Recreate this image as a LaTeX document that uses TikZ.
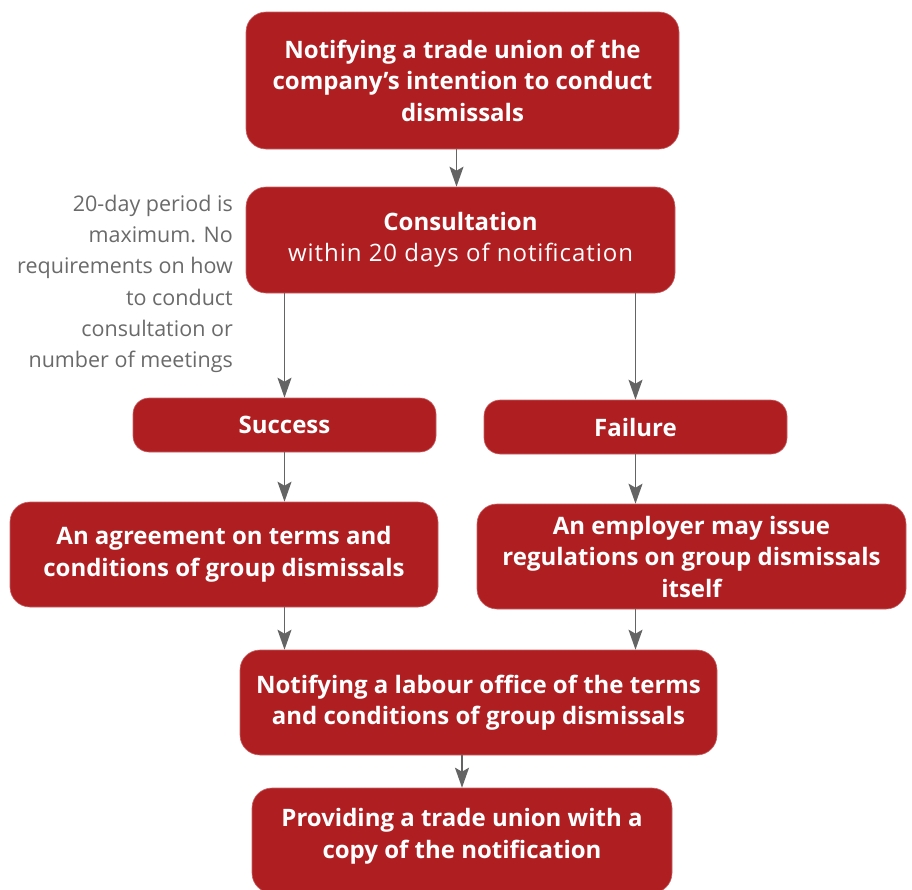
\documentclass[tikz,border=0pt]{standalone}
\usepackage{fontspec}
\setmainfont{Open Sans}
\usetikzlibrary{arrows.meta}
\definecolor{boxred}{HTML}{AF1F22}
\definecolor{arrowgray}{HTML}{646464}
\definecolor{notegray}{HTML}{6A6A6A}
\tikzset{
  stepbox/.style={fill=boxred, draw=boxred!70!white, line width=0.6pt, rounded corners=20pt,
    text=white, align=center, inner sep=0pt,
    font=\fontsize{24}{31.5}\selectfont\bfseries},
  smallbox/.style={stepbox, rounded corners=16pt},
  arr/.style={draw=arrowgray, line width=1.8pt,
    -{Stealth[length=20pt,width=14pt,inset=4pt,fill=arrowgray]}},
  note/.style={align=right, anchor=north east, inner sep=0pt, text=notegray,
    font=\fontsize{21.5}{31.2}\selectfont}
}
\begin{document}
\begin{tikzpicture}[x=1pt,y=-1pt]
\useasboundingbox (0,0) rectangle (912,889);

\node[stepbox, minimum width=433pt, minimum height=137pt] (top) at (462.5,80.5)
  {Notifying a trade union of the\\company’s intention to conduct\\dismissals};
\node[stepbox, minimum width=429pt, minimum height=106pt] (cons) at (460.5,240)
  {Consultation\\\mdseries\addfontfeature{LetterSpace=4}within 20 days of notification};
\node[note] (remark) at (233,195)
  {20-day period is\\maximum. No\\requirements on how\\to conduct\\consultation or\\number of meetings};

\node[smallbox, minimum width=303pt, minimum height=54pt] (succ) at (284.5,425) {Success};
\node[smallbox, minimum width=303pt, minimum height=54pt] (fail) at (635.5,427) {Failure};

\node[stepbox, minimum width=428pt, minimum height=105pt] (agr) at (224,554.5)
  {An agreement on terms and\\conditions of group dismissals};
\node[stepbox, minimum width=429pt, minimum height=105pt] (emp) at (691.5,556.5)
  {An employer may issue\\regulations on group dismissals\\itself};

\node[stepbox, minimum width=477pt, minimum height=105pt] (lab) at (478.5,702.5)
  {Notifying a labour office of the terms\\and conditions of group dismissals};
\node[stepbox, minimum width=420pt, minimum height=105pt, text depth=14pt] (prov) at (462,840.5)
  {Providing a trade union with a\\copy of the notification};

\draw[arr] ([xshift=-6pt]top.south) -- ([xshift=-6pt]top.south |- cons.north);
\draw[arr] (succ.north |- cons.south) -- (succ.north);
\draw[arr] (fail.north |- cons.south) -- (fail.north);
\draw[arr] (succ.south) -- (succ.south |- agr.north);
\draw[arr] (fail.south) -- (fail.south |- emp.north);
\draw[arr] (succ.south |- agr.south) -- (succ.south |- lab.north);
\draw[arr] (fail.south |- emp.south) -- (fail.south |- lab.north);
\draw[arr] (prov.north |- lab.south) -- (prov.north);
\end{tikzpicture}
\end{document}
